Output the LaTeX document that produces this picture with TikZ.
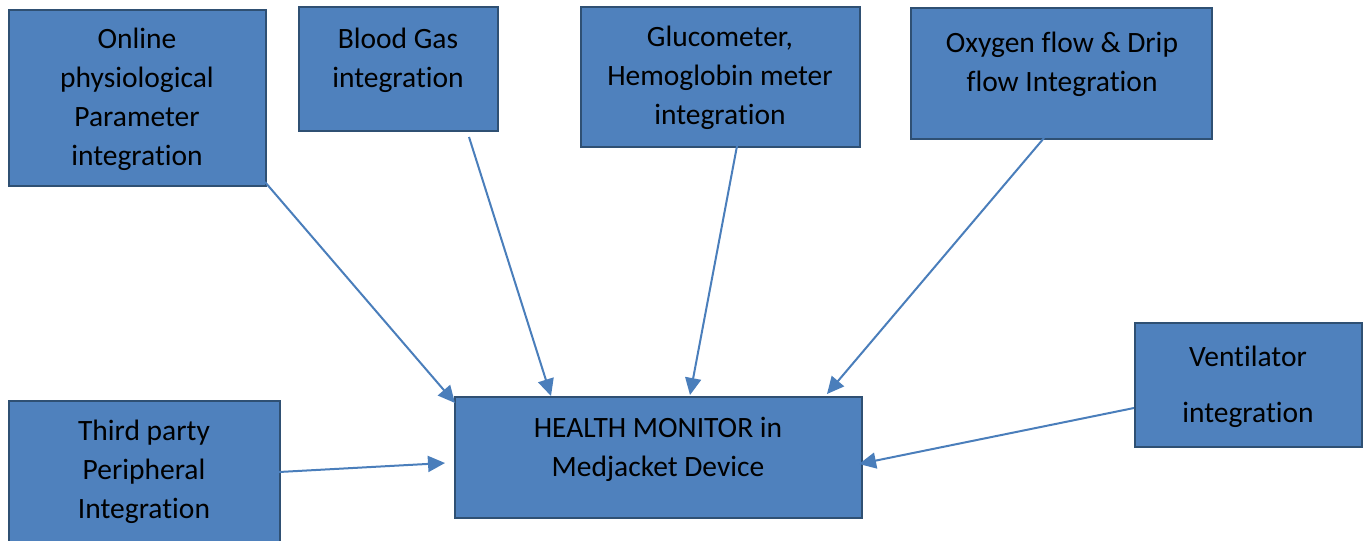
\documentclass[tikz,border=0pt]{standalone}
\usepackage{fontspec}
\setmainfont{Carlito}[Ligatures=NoCommon]
\usetikzlibrary{arrows.meta}
\definecolor{boxfill}{HTML}{4F81BD}
\definecolor{boxline}{HTML}{2F5073}
\definecolor{arrowc}{HTML}{4A7EBB}
\tikzset{
  blk/.style={draw=boxline, line width=2.4pt, fill=boxfill, inner sep=0pt},
  txt/.style={align=center, inner sep=0pt, font=\fontsize{29.5}{39}\selectfont, text=black},
  conn/.style={draw=arrowc, line width=2pt, -{Triangle[length=17pt,width=16pt]}}
}
\begin{document}
\begin{tikzpicture}[x=1pt,y=-1pt]
\useasboundingbox (0,0) rectangle (1369,541);
% boxes
\node[blk, minimum width=257pt, minimum height=176pt, anchor=north west] (on) at (8,9) {};
\node[blk, minimum width=199pt, minimum height=124pt, anchor=north west] (bg) at (298,6) {};
\node[blk, minimum width=279pt, minimum height=140pt, anchor=north west] (gl) at (580,6) {};
\node[blk, minimum width=301pt, minimum height=131pt, anchor=north west] (ox) at (910,7) {};
\node[blk, minimum width=227pt, minimum height=124pt, anchor=north west] (ve) at (1134,322) {};
\node[blk, minimum width=271pt, minimum height=150pt, anchor=north west] (tp) at (8,400) {};
\node[blk, minimum width=407pt, minimum height=121pt, anchor=north west] (hm) at (454,396) {};
% texts
\node[txt] (ont) at (137,99) {Online\\physiological\\Parameter\\integration};
\node[txt] (bgt) at (398,60) {Blood Gas\\integration};
\node[txt] (glt) at (720,78) {Glucometer,\\Hemoglobin meter\\integration};
\node[txt] (oxt) at (1062,64) {Oxygen flow \& Drip\\flow Integration};
\node[txt] (vet1) at (1248,356) {Ventilator};
\node[txt] (vet2) at (1248,415) {integration};
\node[txt] (tpt) at (144,472) {Third party\\Peripheral\\Integration};
\node[txt] (hmt) at (658,449) {HEALTH MONITOR in\\Medjacket Device};
% connector end points
\coordinate (a1) at (265,182); \coordinate (b1) at (455,403);
\coordinate (a2) at (469,137); \coordinate (b2) at (551,396);
\coordinate (a3) at (737,146); \coordinate (b3) at (690,395);
\coordinate (a4) at (1044,138); \coordinate (b4) at (827,394);
\coordinate (a5) at (1134,408); \coordinate (b5) at (859,464);
\coordinate (a6) at (279,472); \coordinate (b6) at (445,463);
\draw[conn] (a1) -- (b1);
\draw[conn] (a2) -- (b2);
\draw[conn] (a3) -- (b3);
\draw[conn] (a4) -- (b4);
\draw[conn] (a5) -- (b5);
\draw[conn] (a6) -- (b6);
\end{tikzpicture}
\end{document}
